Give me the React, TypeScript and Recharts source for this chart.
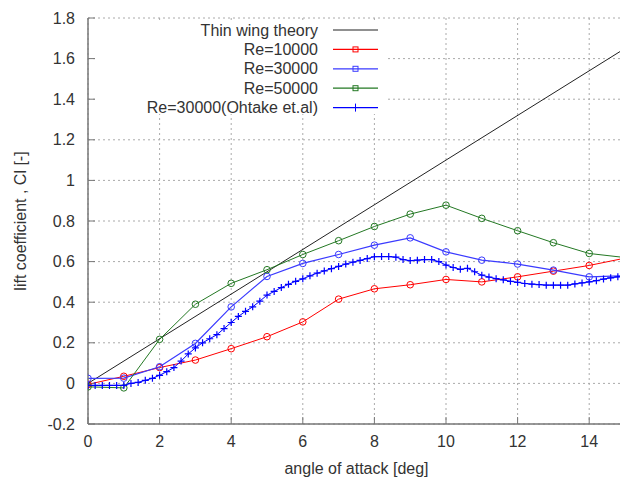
import { LineChart, Line, XAxis, YAxis, CartesianGrid, Legend } from 'recharts';

// thin wing theory (2*pi*alpha)
const thinAlpha = [0, 15];
const thinCl = [0, 1.65];

// computed cases, every 1 deg
const aoa = [0, 1, 2, 3, 4, 5, 6, 7, 8, 9, 10, 11, 12, 13, 14, 15];
const re10000 = [-0.005, 0.035, 0.078, 0.115, 0.171, 0.23, 0.303, 0.415, 0.466, 0.486, 0.512, 0.5, 0.525, 0.553, 0.581, 0.617];
const re30000 = [0.025, 0.026, 0.082, 0.197, 0.377, 0.527, 0.591, 0.635, 0.681, 0.717, 0.648, 0.607, 0.588, 0.558, 0.525, 0.53];
const re50000 = [-0.017, -0.022, 0.217, 0.39, 0.493, 0.56, 0.635, 0.703, 0.773, 0.834, 0.878, 0.813, 0.752, 0.693, 0.64, 0.62];

// experiment, Re=30000 (Ohtake et.al)
const ohtakeAlpha = [
  0, 0.2, 0.4, 0.6, 0.8, 1, 1.2, 1.4, 1.6, 1.8, 2, 2.2, 2.4, 2.6, 2.8, 3, 3.2, 3.4, 3.6, 3.8,
  4, 4.2, 4.4, 4.6, 4.8, 5, 5.2, 5.4, 5.6, 5.8, 6, 6.2, 6.4, 6.6, 6.8, 7, 7.2, 7.4, 7.6, 7.8,
  8, 8.2, 8.4, 8.6, 8.8, 9, 9.2, 9.4, 9.6, 9.8, 10, 10.2, 10.4, 10.6, 10.8, 11, 11.2, 11.4, 11.6, 11.8,
  12, 12.2, 12.4, 12.6, 12.8, 13, 13.2, 13.4, 13.6, 13.8, 14, 14.2, 14.4, 14.6, 14.8, 15,
];
const ohtakeCl = [
  -0.01, -0.01, -0.01, -0.01, -0.01, -0.01, 0.0, 0.005, 0.015, 0.025, 0.04, 0.058, 0.078, 0.11, 0.145, 0.175, 0.2, 0.22, 0.24, 0.27,
  0.3, 0.33, 0.355, 0.377, 0.405, 0.435, 0.453, 0.472, 0.488, 0.503, 0.515, 0.53, 0.543, 0.554, 0.565, 0.576, 0.588, 0.597, 0.606, 0.615,
  0.624, 0.625, 0.625, 0.622, 0.61, 0.605, 0.607, 0.61, 0.61, 0.6, 0.583, 0.571, 0.562, 0.567, 0.55, 0.533, 0.524, 0.516, 0.51, 0.503,
  0.498, 0.492, 0.489, 0.487, 0.484, 0.484, 0.484, 0.484, 0.49, 0.495, 0.5, 0.506, 0.514, 0.52, 0.525, 0.53,
];

const xTicks = [0, 2, 4, 6, 8, 10, 12, 14];
const yTicks = [-0.2, 0, 0.2, 0.4, 0.6, 0.8, 1, 1.2, 1.4, 1.6, 1.8];

const legendItems = [
  { name: 'Thin wing theory', color: '#222222', marker: 'none' },
  { name: 'Re=10000', color: '#ff0000', marker: 'square' },
  { name: 'Re=30000', color: '#3a3aff', marker: 'square' },
  { name: 'Re=50000', color: '#237823', marker: 'square' },
  { name: 'Re=30000(Ohtake et.al)', color: '#0000ff', marker: 'plus' },
];

const FONT = '"Liberation Sans", Arial, sans-serif';

const toPoints = (xs: number[], ys: number[]) => xs.map((x, i) => ({ x, y: ys[i] }));

const circleDot = (color: string) => (props: any) => {
  const { cx, cy, index } = props;
  if (cx == null || cy == null) return <g key={index} />;
  return <circle key={index} cx={cx} cy={cy} r={3.3} fill="none" stroke={color} strokeWidth={1} />;
};

const plusDot = (color: string) => (props: any) => {
  const { cx, cy, index } = props;
  if (cx == null || cy == null) return <g key={index} />;
  return (
    <path
      key={index}
      d={`M${cx - 3.5},${cy}H${cx + 3.5}M${cx},${cy - 3.5}V${cy + 3.5}`}
      stroke={color}
      strokeWidth={1.2}
      fill="none"
    />
  );
};

function KeyBox() {
  const rowY = (i: number) => 8 + i * 19.4;
  return (
    <svg width={291} height={92} style={{ display: 'block', background: '#fff', overflow: 'visible' }}>
      {legendItems.map((it, i) => (
        <g key={it.name}>
          <text
            x={222}
            y={rowY(i)}
            textAnchor="end"
            dominantBaseline="central"
            fontSize={16}
            fontFamily={FONT}
            fill="#333"
          >
            {it.name}
          </text>
          <line x1={237} x2={282} y1={rowY(i)} y2={rowY(i)} stroke={it.color} strokeWidth={1.2} />
          {it.marker === 'square' && (
            <rect x={257} y={rowY(i) - 2.5} width={5} height={5} fill="none" stroke={it.color} strokeWidth={1} />
          )}
          {it.marker === 'plus' && (
            <line x1={259.5} x2={259.5} y1={rowY(i) - 4} y2={rowY(i) + 4} stroke={it.color} strokeWidth={1} />
          )}
        </g>
      ))}
    </svg>
  );
}

export default function App() {
  const axisColor = '#777';
  const tickStyle = { fontSize: 16, fill: '#333', fontFamily: FONT };
  return (
    <div style={{ position: 'absolute', left: 0, top: 0, width: 620, height: 482, overflow: 'hidden', background: '#fff' }}>
      <LineChart width={640} height={482} margin={{ top: 18, right: 15, left: 0, bottom: 0 }}>
        <CartesianGrid stroke="#aaa" strokeDasharray="2 3" horizontalValues={yTicks} verticalValues={xTicks} />
        <XAxis
          type="number"
          dataKey="x"
          domain={[0, 15]}
          ticks={xTicks}
          allowDataOverflow
          height={58}
          tickSize={-7}
          tickMargin={19}
          tick={tickStyle}
          stroke={axisColor}
          axisLine={{ stroke: axisColor, strokeWidth: 1.5 }}
          tickLine={{ stroke: axisColor }}
          label={{ value: 'angle of attack [deg]', position: 'center', dy: 15, fontSize: 16, fill: '#333', fontFamily: FONT }}
        />
        <XAxis
          xAxisId="top"
          orientation="top"
          type="number"
          dataKey="x"
          domain={[0, 15]}
          ticks={xTicks}
          height={0}
          tickSize={-7}
          tickFormatter={() => ''}
          axisLine={{ stroke: axisColor, strokeWidth: 1.5 }}
          tickLine={{ stroke: axisColor }}
        />
        <YAxis
          type="number"
          dataKey="y"
          domain={[-0.2, 1.8]}
          ticks={yTicks}
          allowDataOverflow
          width={88}
          tickSize={-7}
          tickMargin={20}
          tick={tickStyle}
          tickFormatter={(v: number) => String(Math.round(v * 10) / 10)}
          axisLine={{ stroke: axisColor, strokeWidth: 1.5 }}
          tickLine={{ stroke: axisColor }}
          label={{ value: 'lift coefficient , Cl [-]', angle: -90, position: 'center', dx: -24, fontSize: 16, fill: '#333', fontFamily: FONT }}
        />
        <Legend
          layout="vertical"
          align="center"
          verticalAlign="middle"
          wrapperStyle={{ top: 22, left: 96, width: 291, height: 92 }}
          content={() => <KeyBox />}
        />
        <Line
          data={toPoints(thinAlpha, thinCl)}
          dataKey="y"
          stroke="#222"
          strokeWidth={1}
          dot={false}
          activeDot={false}
          isAnimationActive={false}
        />
        <Line
          data={toPoints(aoa, re10000)}
          dataKey="y"
          stroke="#ff0000"
          strokeWidth={1}
          dot={circleDot('#ff0000')}
          activeDot={false}
          isAnimationActive={false}
        />
        <Line
          data={toPoints(aoa, re30000)}
          dataKey="y"
          stroke="#3a3aff"
          strokeWidth={1.2}
          dot={circleDot('#3a3aff')}
          activeDot={false}
          isAnimationActive={false}
        />
        <Line
          data={toPoints(aoa, re50000)}
          dataKey="y"
          stroke="#237823"
          strokeWidth={1}
          dot={circleDot('#237823')}
          activeDot={false}
          isAnimationActive={false}
        />
        <Line
          data={toPoints(ohtakeAlpha, ohtakeCl)}
          dataKey="y"
          stroke="#0000ff"
          strokeWidth={1}
          dot={plusDot('#0000ff')}
          activeDot={false}
          isAnimationActive={false}
        />
      </LineChart>
    </div>
  );
}
